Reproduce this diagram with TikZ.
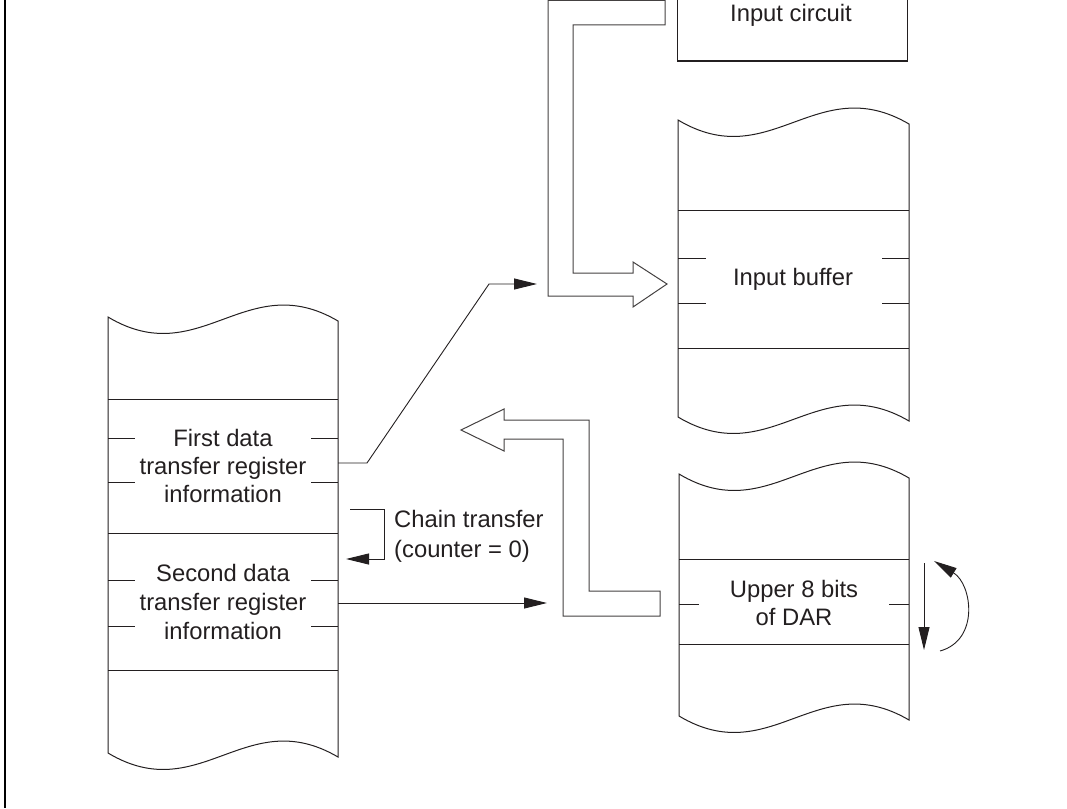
\documentclass[tikz,border=0pt]{standalone}
\usepackage{fontspec}
\setmainfont{Liberation Sans}
\usetikzlibrary{arrows.meta}
\definecolor{ink}{HTML}{231F20}
\newcommand\memblk[4]{% L R ytop ybottom
  \draw[mem] (#1,#3) .. controls ({#1+0.4*(#2-#1)},{#3+55}) and ({#1+0.6*(#2-#1)},{#3-50}) .. (#2,{#3+4})
    -- (#2,{#4+4}) .. controls ({#1+0.6*(#2-#1)},{#4-50}) and ({#1+0.4*(#2-#1)},{#4+55}) .. (#1,#4) -- cycle;}
\tikzset{
  mem/.style={draw=ink, line width=1pt},
  sep/.style={draw=ink, line width=0.9pt},
  hollow/.style={draw=ink!85, line width=1pt, line join=miter},
  lbl/.style={text=ink, font=\fontsize{23.8}{28}\selectfont, inner sep=0pt, anchor=base},
  lbll/.style={lbl, anchor=base west},
  conn/.style={draw=ink, line width=0.9pt, -{Triangle[length=23pt,width=11pt]}},
}
\begin{document}
\begin{tikzpicture}[x=1pt,y=-1pt]
\useasboundingbox (0,0) rectangle (1067,808);
% left frame line
\draw[line width=2pt, black] (4.5,0) -- (4.5,808);

% ---------- Input circuit ----------
\draw[mem] (677,-5) rectangle (907,61);
\node[lbl] (incirc) at (791,22) {Input circuit};

% ---------- Input buffer block ----------
\memblk{678}{909}{120}{417}
\draw[sep] (678,210) -- (909,210) (678,348) -- (909,348);
\draw[sep] (678,258) -- (706,258) (882,258) -- (909,258)
           (678,303) -- (706,303) (882,303) -- (909,303);
\node[lbl] (inbuf) at (793,285) {Input buffer};

% ---------- DAR block ----------
\memblk{679}{909}{474}{716}
\draw[sep] (679,559) -- (909,559) (679,644) -- (909,644);
\draw[sep] (679,604) -- (699,604) (889,604) -- (909,604);
\node[lbl] (dar1) at (794,597) {Upper 8 bits};
\node[lbl] (dar2) at (794,625) {of DAR};

% ---------- Left memory block ----------
\memblk{108}{338}{317}{753}
\draw[sep] (108,399) -- (338,399) (108,533) -- (338,533) (108,670) -- (338,670);
\foreach \y in {438,482,580,626}
  \draw[sep] (108,\y) -- (135,\y) (311,\y) -- (338,\y);
\node[lbl] (f1) at (223,446) {First data};
\node[lbl] (f2) at (223,474) {transfer register};
\node[lbl] (f3) at (223,502) {information};
\node[lbl] (s1) at (223,581) {Second data};
\node[lbl] (s2) at (223,610) {transfer register};
\node[lbl] (s3) at (223,639) {information};

% ---------- Chain transfer ----------
\node[lbll] (ct1) at (394,527) {Chain transfer};
\node[lbll] (ct2) at (394,557) {(counter = 0)};

% ---------- named connector points ----------
\coordinate (firstout) at (338,463);
\coordinate (firstbend) at (367,463);
\coordinate (upbend) at (489,284);
\coordinate (bufin) at (537,284);
\coordinate (secondout) at (338,603);
\coordinate (secondin) at (547,603);
\coordinate (chainstart) at (350,509);
\coordinate (chainA) at (384,509);
\coordinate (chainB) at (384,559);
\coordinate (chainend) at (346,559);
\coordinate (downtop) at (924,563);
\coordinate (downbot) at (924,650);
\coordinate (rotstart) at (940,651);
\coordinate (rotend) at (934,561);

% ---------- connectors ----------
\draw[conn] (firstout) -- (firstbend) -- (upbend) -- (bufin);
\draw[conn] (secondout) -- (secondin);
\draw[conn] (chainstart) -- (chainA) -- (chainB) -- (chainend);
\draw[conn] (downtop) -- (downbot);
\draw[conn] (rotstart) .. controls (980,640) and (972,584) .. (rotend);

% ---------- hollow arrows ----------
\draw[hollow] (665,0.5) -- (665,25) -- (573,25) -- (573,273) -- (633,273) -- (633,262)
  -- (667,284) -- (633,307) -- (633,296) -- (548,296) -- (548,0.5) -- cycle;
\draw[hollow] (660,591) -- (660,616) -- (563,616) -- (563,439) -- (504,439) -- (504,451)
  -- (461,430) -- (504,409) -- (504,420) -- (589,420) -- (589,591) -- cycle;
\end{tikzpicture}
\end{document}
